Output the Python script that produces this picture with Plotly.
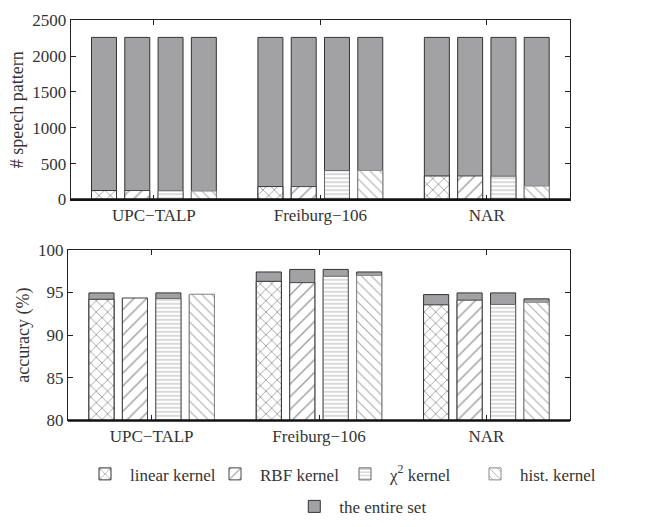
import plotly.graph_objects as go

groups = ["UPC\u2212TALP", "Freiburg\u2212106", "NAR"]
kernels = ["linear kernel", "RBF kernel", "\u03c7<sup>2</sup> kernel", "hist. kernel"]

# top chart: number of speech patterns
entire_count = [2260, 2260, 2260]
kernel_count = {
    "linear kernel": [125, 180, 328],
    "RBF kernel": [125, 180, 328],
    "\u03c7<sup>2</sup> kernel": [122, 403, 325],
    "hist. kernel": [118, 405, 188],
}

# bottom chart: accuracy (%)
kernel_acc = {
    "linear kernel": [94.2, 96.3, 93.55],
    "RBF kernel": [94.35, 96.15, 94.1],
    "\u03c7<sup>2</sup> kernel": [94.3, 96.9, 93.6],
    "hist. kernel": [94.8, 97.0, 93.85],
}
entire_acc = {
    "linear kernel": [94.95, 97.4, 94.75],
    "RBF kernel": [94.3, 97.7, 94.95],
    "\u03c7<sup>2</sup> kernel": [94.95, 97.7, 94.95],
    "hist. kernel": [94.7, 97.4, 94.25],
}

patterns = {
    "linear kernel": dict(shape="x", size=8, solidity=0.2, fgcolor="#333"),
    "RBF kernel": dict(shape="/", size=9, solidity=0.15, fgcolor="#333"),
    "\u03c7<sup>2</sup> kernel": dict(shape="-", size=4, solidity=0.25, fgcolor="#666"),
    "hist. kernel": dict(shape="\\", size=7, solidity=0.15, fgcolor="#555"),
}
edge = {"linear kernel": "#333", "RBF kernel": "#444",
        "\u03c7<sup>2</sup> kernel": "#666", "hist. kernel": "#888"}

GRAY = "#a2a2a4"
FONT = "Liberation Serif, Times New Roman, serif"
BW = 0.15
W, H = 662, 527

fig = go.Figure()

for k_i, k in enumerate(kernels):
    off = -0.3 + 0.2 * k_i - BW / 2
    # top chart
    fig.add_trace(go.Bar(x=groups, y=entire_count, width=BW, offset=off,
                         marker=dict(color=GRAY, line=dict(color="#333", width=1)),
                         xaxis="x", yaxis="y", showlegend=False,
                         name="the entire set"))
    fig.add_trace(go.Bar(x=groups, y=kernel_count[k], width=BW, offset=off,
                         marker=dict(color="white", line=dict(color=edge[k], width=1),
                                     pattern=dict(bgcolor="white", **patterns[k])),
                         xaxis="x", yaxis="y", showlegend=True, legend="legend",
                         name=k))
    # bottom chart
    fig.add_trace(go.Bar(x=groups, y=entire_acc[k], width=BW, offset=off,
                         marker=dict(color=GRAY, line=dict(color="#333", width=1)),
                         xaxis="x2", yaxis="y2", showlegend=(k_i == 0),
                         legend="legend2", name="the entire set"))
    fig.add_trace(go.Bar(x=groups, y=kernel_acc[k], width=BW, offset=off,
                         marker=dict(color="white", line=dict(color=edge[k], width=1),
                                     pattern=dict(bgcolor="white", **patterns[k])),
                         xaxis="x2", yaxis="y2", showlegend=False, name=k))

axis_common = dict(showline=True, linecolor="#222", linewidth=1, mirror="ticks",
                   ticks="inside", ticklen=5, tickcolor="#222", showgrid=False,
                   zeroline=False, tickfont=dict(family=FONT, size=17, color="#333"))

fig.update_layout(
    width=W, height=H,
    margin=dict(l=0, r=0, t=0, b=0),
    paper_bgcolor="white", plot_bgcolor="white",
    barmode="overlay",
    font=dict(family=FONT, size=17, color="#333"),
    xaxis=dict(domain=[70.7 / W, 570 / W], anchor="y", range=[-0.5, 2.5], **axis_common),
    yaxis=dict(domain=[0.625, 0.978], anchor="x", range=[0, 2500],
               tickvals=[0, 500, 1000, 1500, 2000, 2500],
               title=dict(text="# speech pattern", standoff=3,
                          font=dict(family=FONT, size=18, color="#333")),
               **axis_common),
    xaxis2=dict(domain=[68 / W, 570 / W], anchor="y2", range=[-0.5, 2.5], **axis_common),
    yaxis2=dict(domain=[0.19, 0.526], anchor="x2", range=[80, 100],
                tickvals=[80, 85, 90, 95, 100],
                title=dict(text="accuracy (%)", standoff=3,
                           font=dict(family=FONT, size=18, color="#333")),
                **axis_common),
    legend=dict(orientation="h", x=80 / W, xanchor="left", y=0.084, yanchor="middle",
                font=dict(family=FONT, size=17, color="#333"),
                itemwidth=40, entrywidth=75, entrywidthmode="pixels",
                bgcolor="rgba(0,0,0,0)"),
    legend2=dict(orientation="h", x=0.545, xanchor="center", y=0.02, yanchor="middle",
                 font=dict(family=FONT, size=17, color="#333"),
                 itemwidth=40, bgcolor="rgba(0,0,0,0)"),
    shapes=[
        dict(type="line", xref="x domain", yref="y domain", x0=0, x1=1, y0=0, y1=0,
             line=dict(color="#111", width=2.5)),
        dict(type="line", xref="x2 domain", yref="y2 domain", x0=0, x1=1, y0=0, y1=0,
             line=dict(color="#111", width=2.5)),
    ],
)

fig.write_html("out.html")
